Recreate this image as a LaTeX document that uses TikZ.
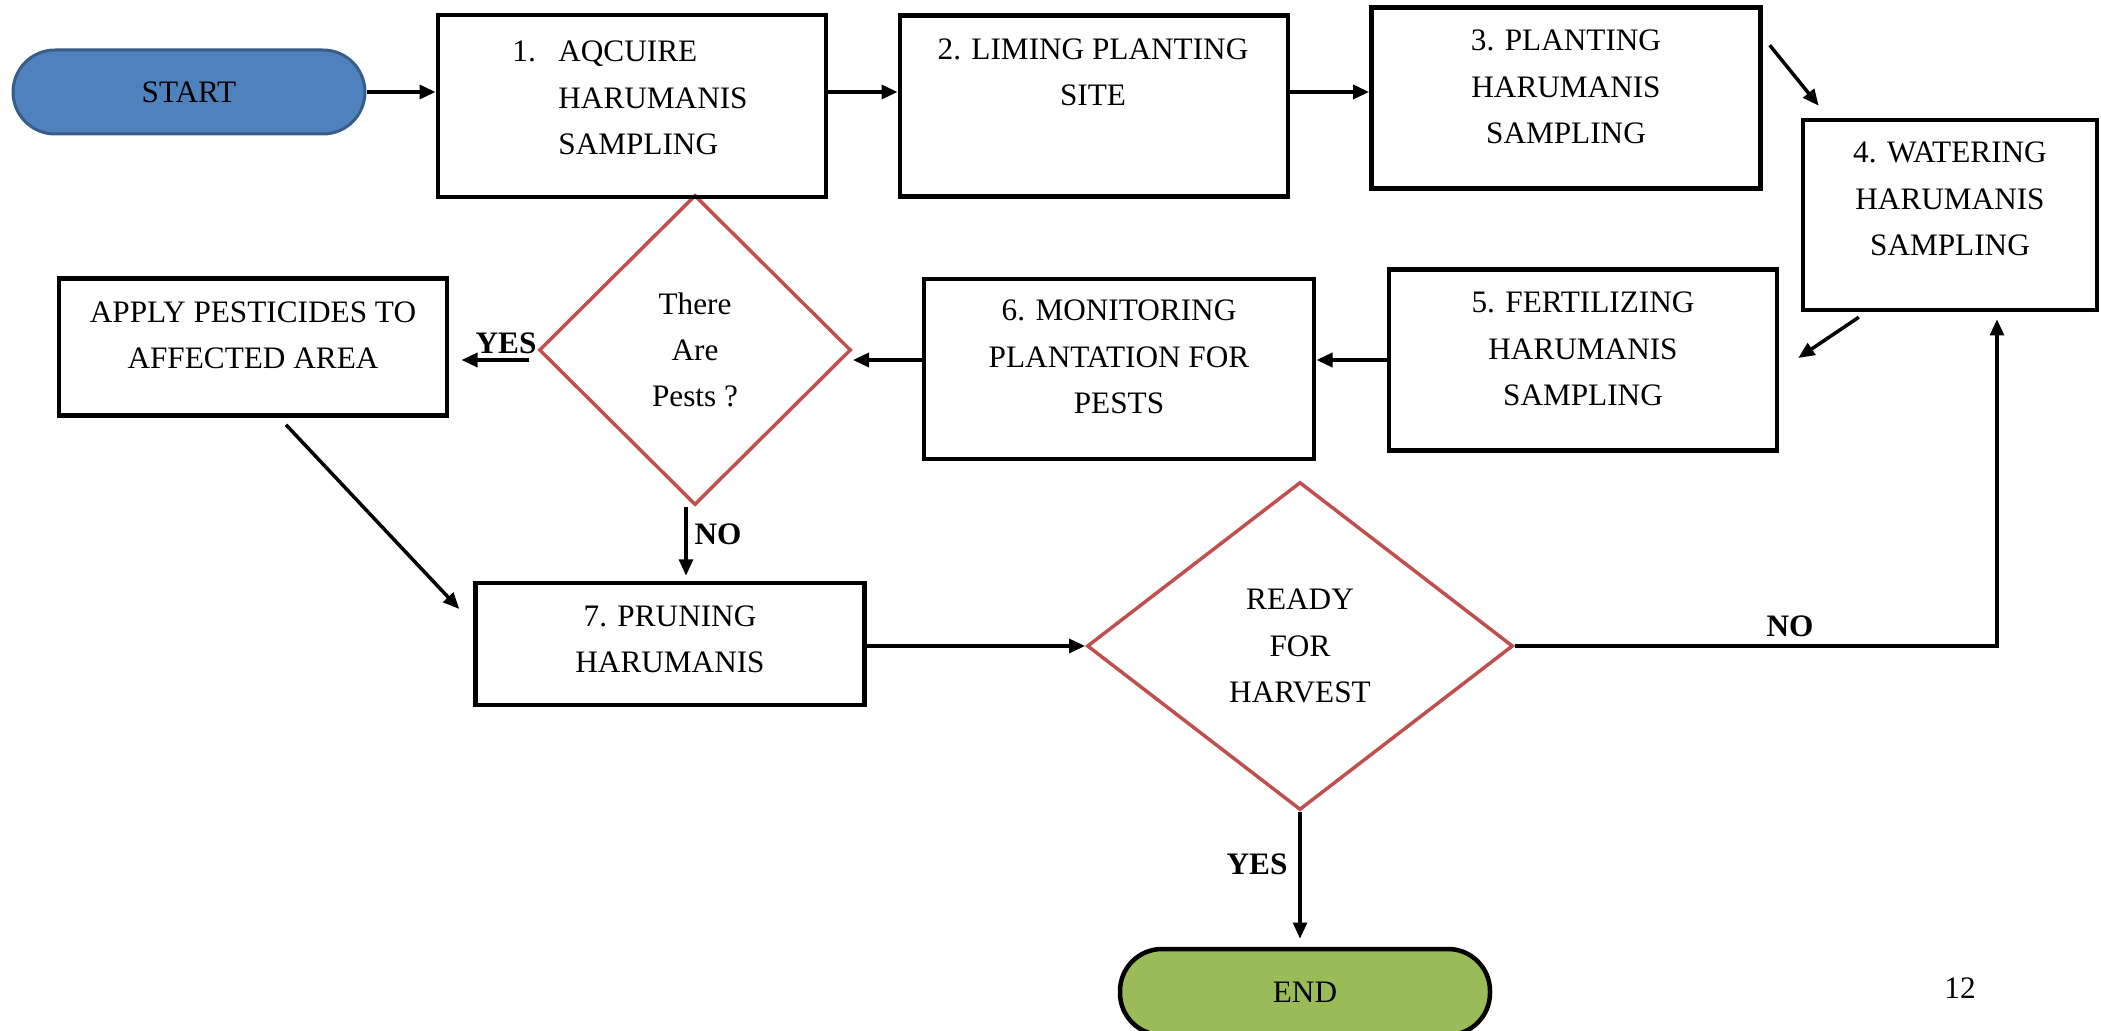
\documentclass[tikz,border=0pt]{standalone}
\usepackage{fontspec}
\setmainfont{Liberation Serif}
\usetikzlibrary{arrows.meta,calc,shapes.geometric}
\definecolor{startblue}{HTML}{4F81BD}
\definecolor{startedge}{HTML}{385D8A}
\definecolor{endgreen}{HTML}{9BBB59}
\definecolor{decred}{HTML}{C0504D}

\begin{document}
\begin{tikzpicture}[x=0.4pt, y=-0.4pt, >={Triangle[length=6.5pt,width=5.5pt]}, thick,
    every node/.style={font=\fontsize{12.5pt}{18.5pt}\selectfont},
    stepbox/.style 2 args={draw, line width=1.8pt, inner sep=0, minimum width=#1*0.4pt, minimum height=#2*0.4pt},
    terminal/.style 2 args={rounded corners=16.8pt, inner sep=0, minimum width=#1*0.4pt, minimum height=#2*0.4pt},
    decision/.style 2 args={draw=decred, line width=1.4pt, shape=diamond, inner sep=0, align=center, minimum width=#1*0.4pt, minimum height=#2*0.4pt},
    txt/.style={align=center, inner sep=0},
    lab/.style={font=\fontsize{12.5pt}{18pt}\selectfont\bfseries, inner sep=0},
    flow/.style={->, line width=1.6pt}]
    \useasboundingbox (0,0) rectangle (2101,1031);

    % 1. 起止与判断节点
    \node[terminal={352}{84}, fill=startblue, draw=startedge, line width=1.2pt] (start) at (189,92) {START};
    \node[terminal={370}{86}, fill=endgreen, draw=black, line width=1.8pt] (end) at (1305,992) {END};
    \node[decision={312}{310}] (pests) at (695,350) {There\\Are\\Pests ?};
    \node[decision={426}{328}] (harvest) at (1300,646) {READY\\FOR\\HARVEST};

    % 2. 步骤方框
    \node[stepbox={388}{182}] (s1) at (632,106) {};
    \node[stepbox={388}{181}] (s2) at (1094,106) {};
    \node[stepbox={389}{181}] (s3) at (1566,98) {};
    \node[stepbox={294}{190}] (s4) at (1950,215) {};
    \node[stepbox={388}{181}] (s5) at (1583,360) {};
    \node[stepbox={390}{180}] (s6) at (1119,369) {};
    \node[stepbox={388}{137}] (apply) at (253,347) {};
    \node[stepbox={389}{122}] (s7) at (670,644) {};

    % 3. 方框文字
    \node[txt, align=left] (t1) at (630,98) {\makebox[18.4pt][l]{1.}AQCUIRE\\\hspace*{18.4pt}HARUMANIS\\\hspace*{18.4pt}SAMPLING};
    \node[txt] (t2) at (1093,72) {2. LIMING PLANTING\\SITE};
    \node[txt] (t3) at (1566,87) {3. PLANTING\\HARUMANIS\\SAMPLING};
    \node[txt] (t4) at (1950,199) {4. WATERING\\HARUMANIS\\SAMPLING};
    \node[txt] (t5) at (1583,349) {5. FERTILIZING\\HARUMANIS\\SAMPLING};
    \node[txt] (t6) at (1119,357) {6. MONITORING\\PLANTATION FOR\\PESTS};
    \node[txt] (ta) at (253,335) {APPLY PESTICIDES TO\\AFFECTED AREA};
    \node[txt] (t7) at (670,639) {7. PRUNING\\HARUMANIS};

    % 4. 连线
    \draw[flow] (start.east) -- (start.east -| s1.west);
    \draw[flow] (s1.east |- start) -- (s2.west |- start);
    \draw[flow] (s2.east |- start) -- (s3.west |- start);
    \draw[flow, line width=1.4pt] ($(s3.north east)+(7,40)$) -- ($(s4.north west)+(18,-12)$);
    \draw[flow, line width=1.4pt] ($(s4.south west)+(58,5)$) -- ($(s5.east)+(19,-2)$);
    \draw[flow] (s5.west) -- (s5.west -| s6.east);
    \draw[flow] (s6.west |- s5.west) -- (s5.west -| pests.east);
    \draw[flow] ($(pests.west)+(-8,10)$) -- ($(apply.east)+(12,13)$);
    \draw[flow, line width=1.4pt] ($(apply.south)+(33,7)$) -- ($(s7.west)+(-14,-35)$);
    \draw[flow, line width=1.3pt] ($(pests.south)+(-9,0)$) -- ($(s7.north)+(16,-5)$);
    \draw[flow] (s7.east |- harvest.west) -- (harvest.west);
    \draw[flow, line width=1.5pt] (harvest.east) -| ($(s4.south)+(47,7)$);
    \draw[flow, line width=1.4pt] (harvest.south) -- ($(harvest.south |- end.north)+(0,-8)$);

    % 5. 分支标签
    \node[lab] (yes1) at (506,343) {YES};
    \node[lab] (no1) at (718,534) {NO};
    \node[lab] (no2) at (1790,626) {NO};
    \node[lab] (yes2) at (1257,864) {YES};
    \node (page) at (1960,988) {12};
\end{tikzpicture}
\end{document}
